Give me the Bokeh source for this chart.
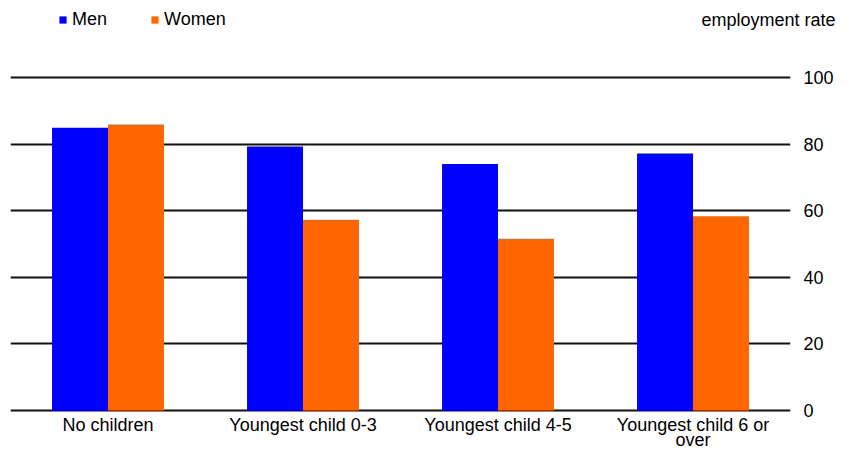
from bokeh.plotting import figure
from bokeh.layouts import column
from bokeh.models import (ColumnDataSource, FactorRange, Range1d, LinearAxis, FixedTicker,
                          Legend, LegendItem, Label)
from bokeh.core.properties import value
from bokeh.transform import dodge
from bokeh.embed import file_html
from bokeh.resources import INLINE

categories = ["No children", "Youngest child 0-3", "Youngest child 4-5", "Youngest child 6 or\nover"]
men = [84.9, 79.3, 74.0, 77.2]
women = [85.9, 57.3, 51.6, 58.3]
series_names = ["Men", "Women"]
y_ticks = [0, 20, 40, 60, 80, 100]
unit_label = "employment rate"

FONT = "Liberation Sans"
BLUE = "#0000FF"
ORANGE = "#FF6600"
W = 836
HEADER_H = 60
MAIN_H = 452 - HEADER_H

src = ColumnDataSource(data=dict(cat=categories, men=men, women=women))
x_range = FactorRange(factors=categories, range_padding=0)
bw = 0.287

# ---------------- header (legend + unit label) ----------------
hdr = figure(width=W, height=HEADER_H, output_backend="svg", toolbar_location=None,
             x_range=x_range, y_range=Range1d(0, 1),
             x_axis_location=None, y_axis_location=None,
             min_border=0, outline_line_color=None)
hdr.frame_align = False
hdr.grid.visible = False
# legend-only renderers (hidden), bound to the same data
d_men = hdr.vbar(x=dodge("cat", -bw / 2, range=x_range), top="men", width=bw, source=src,
                 fill_color=BLUE, line_color=None, visible=False)
d_women = hdr.vbar(x=dodge("cat", bw / 2, range=x_range), top="women", width=bw, source=src,
                   fill_color=ORANGE, line_color=None, visible=False)
legend = Legend(items=[LegendItem(label=series_names[0], renderers=[d_men]),
                       LegendItem(label=series_names[1], renderers=[d_women])],
                orientation="horizontal", location=(58, 30),
                glyph_width=9, glyph_height=9, label_standoff=5, spacing=43,
                padding=0, margin=0, border_line_color=None, background_fill_alpha=0,
                inactive_fill_alpha=0,
                label_text_font=FONT, label_text_font_size="18px", label_height=9,
                label_text_color="#000000")
hdr.add_layout(legend, "center")
hdr.add_layout(Label(x=835, y=HEADER_H - 19, x_units="screen", y_units="screen", text=unit_label,
                     text_align="right", text_baseline="middle", text_font=FONT,
                     text_font_size="18px", text_color="#000000"))

# ---------------- main chart ----------------
PX_PER_UNIT = 3.33
ZERO_PX = 350          # canvas y of value 0 in the main figure
TOP100_PX = ZERO_PX - 100 * PX_PER_UNIT
y_top = 100 + TOP100_PX / PX_PER_UNIT
y_bot = -(MAIN_H - ZERO_PX) / PX_PER_UNIT

p = figure(width=W, height=MAIN_H, output_backend="svg", toolbar_location=None,
           x_range=x_range, y_range=Range1d(y_bot, y_top),
           min_border_left=10, min_border_right=45, min_border_top=0, min_border_bottom=0,
           x_axis_location=None, y_axis_location=None, outline_line_color=None)
p.frame_align = False

p.vbar(x=dodge("cat", -bw / 2, range=x_range), top="men", width=bw, source=src,
       fill_color=BLUE, line_color=None)
p.vbar(x=dodge("cat", bw / 2, range=x_range), top="women", width=bw, source=src,
       fill_color=ORANGE, line_color=None)

# category labels under the bars
p.text(x="cat", y=-1.3, text="cat", source=src, text_align="center", text_baseline="top",
       text_font=value(FONT), text_font_size="18px", text_color="#000000",
       text_line_height=0.78)

ax = LinearAxis(ticker=FixedTicker(ticks=y_ticks))
ax.axis_line_color = None
ax.major_tick_line_color = None
ax.minor_tick_line_color = None
ax.major_tick_out = 0
ax.major_tick_in = 0
ax.minor_tick_out = 0
ax.major_label_text_font = FONT
ax.major_label_text_font_size = "18px"
ax.major_label_text_color = "#000000"
ax.major_label_standoff = 13
p.add_layout(ax, "right")

p.ygrid.ticker = FixedTicker(ticks=y_ticks)
p.ygrid.grid_line_color = "#111111"
p.ygrid.grid_line_width = 2
p.xgrid.grid_line_color = None

layout = column(hdr, p, spacing=0)
open("out.html", "w").write(file_html(layout, INLINE))
